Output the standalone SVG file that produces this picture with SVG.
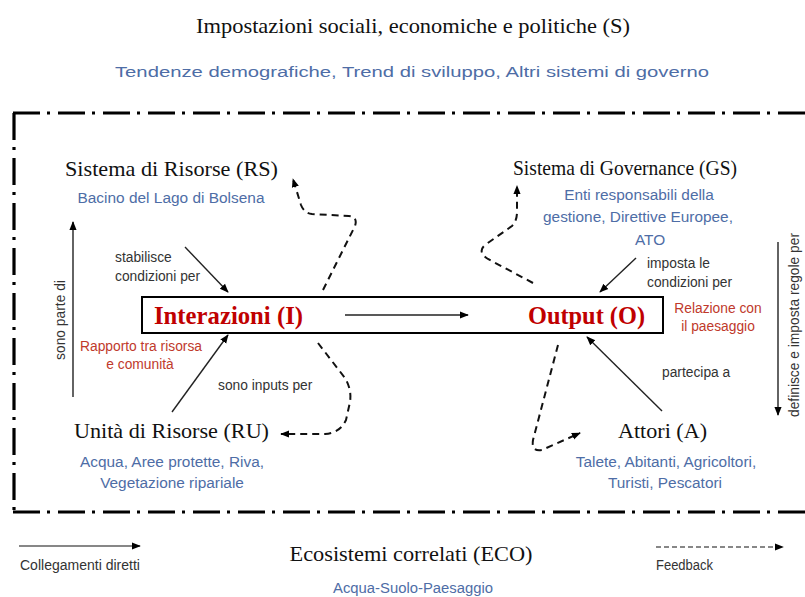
<svg xmlns="http://www.w3.org/2000/svg" width="805" height="597" viewBox="0 0 805 597">
<style>
.serif{font-family:"Liberation Serif","Times New Roman",serif;fill:#111}
.big{font-size:22px}
.bold{font-family:"Liberation Serif","Times New Roman",serif;font-weight:bold;font-size:24.5px;fill:#C00000}
.blue{font-family:"Liberation Sans",Arial,sans-serif;font-size:15.4px;fill:#4E6DA6}
.red{font-family:"Liberation Sans",Arial,sans-serif;font-size:13.8px;fill:#C0392B}
.gray{font-family:"Liberation Sans",Arial,sans-serif;font-size:13.8px;fill:#333}
.border{stroke:#000;stroke-width:3.2;fill:none;stroke-dasharray:27 7 3 8}
.solid{stroke:#222;stroke-width:1.4;fill:none;marker-end:url(#ah)}
.dash{stroke:#111;stroke-width:2;fill:none;stroke-dasharray:7 5;marker-end:url(#ah)}
</style>
<defs>
<marker id="ah" viewBox="0 0 10 10" refX="9" refY="5" markerWidth="9" markerHeight="9" markerUnits="userSpaceOnUse" orient="auto">
<path d="M0,1 L10,5 L0,9 Z" fill="#000"/>
</marker>
</defs>
<rect width="805" height="597" fill="#fff"/>

<g id="context">
<text class="serif big" x="413" y="33" text-anchor="middle" textLength="434" lengthAdjust="spacingAndGlyphs">Impostazioni sociali, economiche e politiche (S)</text>
<text class="blue" x="412" y="77" text-anchor="middle" font-size="19.5" textLength="594" lengthAdjust="spacingAndGlyphs">Tendenze demografiche, Trend di sviluppo, Altri sistemi di governo</text>
</g>

<g id="frame">
<line class="border" x1="13" y1="113" x2="805" y2="113"/>
<line class="border" x1="14" y1="113" x2="14" y2="512"/>
<line class="border" x1="13" y1="512" x2="805" y2="512"/>
</g>

<g id="RS">
<text class="serif big" x="65" y="176" textLength="213" lengthAdjust="spacingAndGlyphs">Sistema di Risorse (RS)</text>
<text class="blue" x="171" y="203" text-anchor="middle" textLength="187" lengthAdjust="spacingAndGlyphs">Bacino del Lago di Bolsena</text>
</g>

<g id="GS">
<text class="serif big" x="513" y="175" textLength="224" lengthAdjust="spacingAndGlyphs">Sistema di Governance (GS)</text>
<text class="blue" x="639" y="200" text-anchor="middle">Enti responsabili della</text>
<text class="blue" x="638" y="222" text-anchor="middle">gestione, Direttive Europee,</text>
<text class="blue" x="650" y="245" text-anchor="middle">ATO</text>
</g>

<g id="IO">
<rect x="142" y="297" width="521" height="36" fill="#fff" stroke="#000" stroke-width="2"/>
<text class="bold" x="154" y="324" textLength="149" lengthAdjust="spacingAndGlyphs">Interazioni (I)</text>
<text class="bold" x="528" y="324" textLength="117" lengthAdjust="spacingAndGlyphs">Output (O)</text>
<text class="red" x="141" y="351" text-anchor="middle" textLength="122" lengthAdjust="spacingAndGlyphs">Rapporto tra risorsa</text>
<text class="red" x="140" y="369" text-anchor="middle">e comunità</text>
<text class="red" x="718" y="313" text-anchor="middle">Relazione con</text>
<text class="red" x="718" y="331" text-anchor="middle">il paesaggio</text>
</g>

<g id="RU">
<text class="serif big" x="74" y="438" textLength="195" lengthAdjust="spacingAndGlyphs">Unità di Risorse (RU)</text>
<text class="blue" x="172" y="467" text-anchor="middle">Acqua, Aree protette, Riva,</text>
<text class="blue" x="172" y="488" text-anchor="middle">Vegetazione ripariale</text>
</g>

<g id="A">
<text class="serif big" x="618" y="438" textLength="89" lengthAdjust="spacingAndGlyphs">Attori (A)</text>
<text class="blue" x="666" y="467" text-anchor="middle">Talete, Abitanti, Agricoltori,</text>
<text class="blue" x="665" y="488" text-anchor="middle">Turisti, Pescatori</text>
</g>

<g id="connectors">
<line class="solid" x1="345" y1="315" x2="468" y2="315"/>
<line class="solid" x1="185" y1="247" x2="228" y2="292"/>
<line class="solid" x1="636" y1="258" x2="600" y2="292"/>
<line class="solid" x1="172" y1="412" x2="228" y2="335"/>
<line class="solid" x1="662" y1="411" x2="587" y2="337"/>
<line class="solid" x1="73" y1="397" x2="73" y2="222"/>
<line class="solid" x1="778" y1="242" x2="778" y2="415"/>
<path class="dash" d="M323,290 L355,226 Q358,217 349,216 L312,214 Q304,213 301,205 L293,179"/>
<path class="dash" d="M533,283 L488,259 Q477,252 485,245 L512,226 Q517,221 517,212 L517,186"/>
<path class="dash" d="M318,343 L345,378 Q352,390 350,402 L346,420 Q340,433 325,434 L281,434"/>
<path class="dash" d="M558,345 L533,440 Q531,452 542,450 L580,433"/>
</g>

<g id="labels">
<text class="gray" x="115" y="262">stabilisce</text>
<text class="gray" x="115" y="281">condizioni per</text>
<text class="gray" x="647" y="268">imposta le</text>
<text class="gray" x="647" y="287">condizioni per</text>
<text class="gray" x="218" y="390">sono inputs per</text>
<text class="gray" x="662" y="377">partecipa a</text>
<text class="gray" transform="translate(65,320) rotate(-90)" text-anchor="middle">sono parte di</text>
<text class="gray" transform="translate(799,325) rotate(-90)" text-anchor="middle">definisce e imposta regole per</text>
</g>

<g id="ECO">
<text class="serif big" x="411" y="561" text-anchor="middle" textLength="243" lengthAdjust="spacingAndGlyphs">Ecosistemi correlati (ECO)</text>
<text class="blue" x="413" y="593" text-anchor="middle" font-size="15" textLength="160" lengthAdjust="spacingAndGlyphs">Acqua-Suolo-Paesaggio</text>
</g>

<g id="legend">
<line x1="19" y1="546" x2="140" y2="546" stroke="#111" stroke-width="1.2" marker-end="url(#ah)"/>
<text class="gray" x="20" y="570" fill="#111" textLength="120" lengthAdjust="spacingAndGlyphs">Collegamenti diretti</text>
<line x1="656" y1="547" x2="783" y2="547" stroke="#111" stroke-width="1.2" stroke-dasharray="5 3" marker-end="url(#ah)"/>
<text class="gray" x="656" y="570" textLength="57" lengthAdjust="spacingAndGlyphs">Feedback</text>
</g>
</svg>
